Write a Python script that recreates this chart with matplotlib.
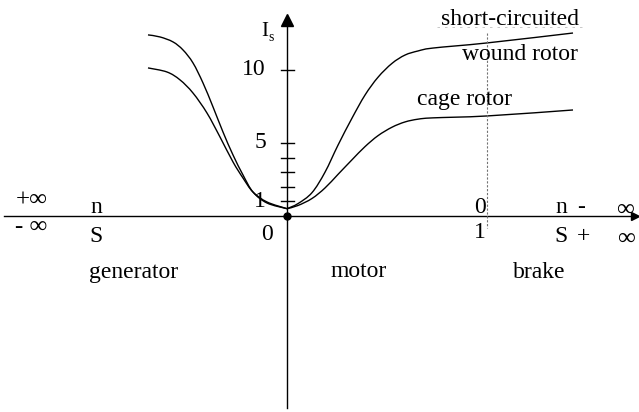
import numpy as np
import matplotlib
matplotlib.use('Agg')
import matplotlib.pyplot as plt
from matplotlib.path import Path
from matplotlib.patches import PathPatch

plt.rcParams['font.family'] = ['Liberation Serif', 'DejaVu Serif']

# slip s vs stator current Is
# generator side (s < 0)
gen_s = [-0.695, -0.635, -0.57, -0.52, -0.47, -0.42, -0.37, -0.32, -0.27, -0.22, -0.17, -0.10, 0.0]
gen_wound = [12.4, 12.26, 11.92, 11.37, 10.48, 9.11, 7.47, 5.75, 4.18, 2.81, 1.64, 0.89, 0.5]
gen_cage_s = [-0.695, -0.60, -0.535, -0.47, -0.40, -0.335, -0.27, -0.22, -0.17, -0.10, 0.0]
gen_cage = [10.14, 9.86, 9.32, 8.42, 7.05, 5.41, 3.70, 2.60, 1.64, 0.96, 0.5]

# motor + brake side (s > 0)
mot_s = [0.0, 0.055, 0.125, 0.19, 0.255, 0.325, 0.39, 0.455, 0.525, 0.59, 0.655, 0.73, 1.0, 1.43]
mot_wound = [0.5, 0.85, 1.6, 3.0, 4.85, 6.7, 8.28, 9.5, 10.45, 11.02, 11.3, 11.5, 11.85, 12.53]
mot_cage = [0.5, 0.72, 1.2, 1.92, 2.85, 3.85, 4.75, 5.5, 6.08, 6.44, 6.63, 6.72, 6.85, 7.26]

yticks = [1, 2, 3, 4, 5, 10]
ytick_labels = {1: '1', 5: '5', 10: '10'}


def smooth_curve(ax, xs, ys, **kw):
    # catmull-rom through the points, drawn as cubic bezier segments
    p = np.column_stack([xs, ys]).astype(float)
    p = np.vstack([p[0], p, p[-1]])
    verts = [p[1]]
    codes = [Path.MOVETO]
    for i in range(1, len(p) - 2):
        c1 = p[i] + (p[i + 1] - p[i - 1]) / 6.0
        c2 = p[i + 1] - (p[i + 2] - p[i]) / 6.0
        verts += [c1, c2, p[i + 1]]
        codes += [Path.CURVE4] * 3
    ax.add_patch(PathPatch(Path(verts, codes), fill=False, **kw))


fig = plt.figure(figsize=(6.39, 4.12), dpi=100)
ax = fig.add_axes([0, 0, 1, 1])
ax.set_xlim(-1.435, 1.76)
ax.set_ylim(-13.42, 14.79)
ax.axis('off')

fs = 17
lw = 1.0

# axes with arrows
ax.plot([-1.415, 1.74], [0, 0], color='k', lw=lw)
ax.plot([1.74], [0], marker='>', ms=6, color='k')
ax.plot([0, 0], [-13.15, 13.2], color='k', lw=lw)
ax.plot([0], [13.4], marker='^', ms=9, color='k')
ax.plot([0], [0], marker='o', ms=5, color='k')

for t in yticks:
    ax.plot([-0.03, 0.035], [t, t], color='k', lw=lw)
for t, lab in ytick_labels.items():
    ax.text(-0.105, t, lab, fontsize=fs, ha='right', va='center')

# s = 1 marker
ax.plot([1.0, 1.0], [12.5, -0.8], color='0.45', lw=0.8, ls=(0, (2, 1.5)))
ax.plot([0.75, 1.49], [12.95, 12.95], color='0.75', lw=0.6, ls=(0, (3, 6)))

# current curves
smooth_curve(ax, gen_s, gen_wound, edgecolor='k', lw=lw)
smooth_curve(ax, gen_cage_s, gen_cage, edgecolor='k', lw=lw)
smooth_curve(ax, mot_s, mot_wound, edgecolor='k', lw=lw)
smooth_curve(ax, mot_s, mot_cage, edgecolor='k', lw=lw)

# labels
ax.text(-0.1125, 12.33, 'I', fontsize=15, ha='center', va='baseline')
ax.text(-0.08, 11.95, 's', fontsize=10, ha='center', va='baseline')
ax.text(-0.0975, -1.64, '0', fontsize=fs, ha='center', va='baseline')

ax.text(-1.275, 1.03, '+\u221e', fontsize=fs + 1, ha='center', va='center')
ax.text(-1.28, -0.75, '- \u221e', fontsize=fs + 1, ha='center', va='center')
ax.text(-0.955, 0.21, 'n', fontsize=fs, ha='center', va='baseline')
ax.text(-0.955, -1.78, 'S', fontsize=fs, ha='center', va='baseline')

ax.text(0.965, 0.21, '0', fontsize=fs, ha='center', va='baseline')
ax.text(0.965, -1.5, '1', fontsize=fs, ha='center', va='baseline')
ax.text(1.37, 0.21, 'n', fontsize=fs, ha='center', va='baseline')
ax.text(1.47, 0.21, '-', fontsize=fs, ha='center', va='baseline')
ax.text(1.37, -1.78, 'S', fontsize=fs, ha='center', va='baseline')
ax.text(1.485, -1.78, '+', fontsize=fs, ha='center', va='baseline')
ax.text(1.69, 0.41, '\u221e', fontsize=fs + 1, ha='center', va='center')
ax.text(1.695, -1.58, '\u221e', fontsize=fs + 1, ha='center', va='center')

ax.text(-0.765, -4.25, 'generator', fontsize=fs, ha='center', va='baseline')
ax.text(0.36, -4.18, 'motor', fontsize=fs, ha='center', va='baseline')
ax.text(1.26, -4.25, 'brake', fontsize=fs, ha='center', va='baseline')

ax.text(1.1125, 13.08, 'short-circuited', fontsize=fs, ha='center', va='baseline')
ax.text(1.165, 10.68, 'wound rotor', fontsize=fs, ha='center', va='baseline')
ax.text(0.8875, 7.6, 'cage rotor', fontsize=fs, ha='center', va='baseline')

fig.savefig('out.png', dpi=100)
